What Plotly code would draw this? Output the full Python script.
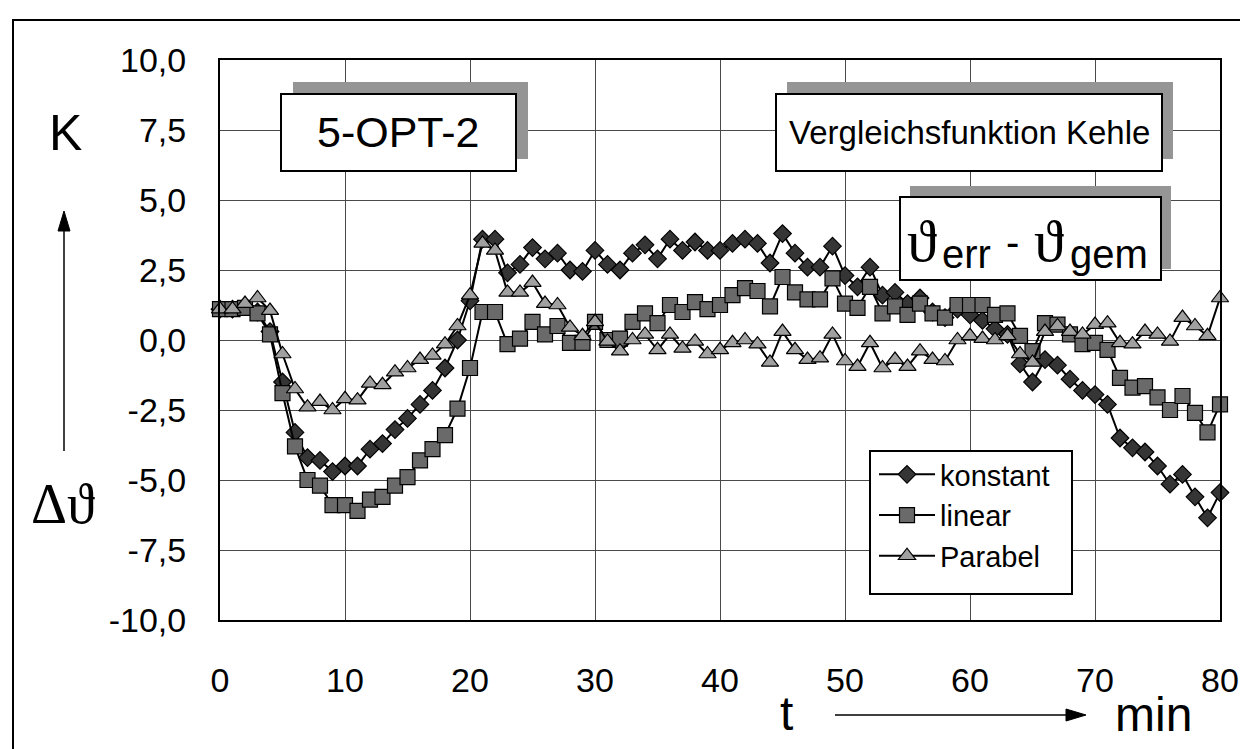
import plotly.graph_objects as go

# ---- data ----
t_min = list(range(0, 81))
konstant = [1.1, 1.1, 1.2, 1.0, 0.3, -1.5, -3.3, -4.2, -4.3, -4.7,
            -4.5, -4.5, -3.9, -3.7, -3.2, -2.8, -2.3, -1.8, -1.0, 0.0,
            1.4, 3.6, 3.6, 2.4, 2.7, 3.3, 2.9, 3.1, 2.5, 2.45,
            3.2, 2.7, 2.5, 3.1, 3.4, 2.9, 3.6, 3.2, 3.5, 3.2,
            3.2, 3.45, 3.6, 3.45, 2.75, 3.8, 3.1, 2.6, 2.6, 3.35,
            2.3, 1.9, 2.6, 1.6, 1.7, 1.3, 1.5, 1.0, 0.8, 1.1,
            0.9, 0.7, 0.4, 0.2, -0.85, -1.5, -0.7, -0.9, -1.4, -1.8,
            -1.95, -2.3, -3.5, -3.85, -4.0, -4.5, -5.15, -4.8, -5.6, -6.35,
            -5.45]
linear = [1.1, 1.1, 1.15, 0.95, 0.2, -1.9, -3.8, -5.0, -5.2, -5.9,
          -5.9, -6.1, -5.7, -5.6, -5.2, -4.9, -4.3, -3.9, -3.4, -2.45,
          -1.0, 1.0, 1.0, -0.15, 0.05, 0.65, 0.2, 0.5, -0.1, -0.1,
          0.65, 0.0, 0.05, 0.65, 0.95, 0.6, 1.25, 1.0, 1.35, 1.1,
          1.25, 1.6, 1.85, 1.75, 1.2, 2.25, 1.7, 1.45, 1.45, 2.2,
          1.3, 1.15, 1.9, 0.95, 1.2, 0.9, 1.3, 0.95, 0.8, 1.25,
          1.25, 1.25, 0.9, 0.95, 0.15, -0.4, 0.6, 0.55, 0.2, -0.15,
          -0.1, -0.35, -1.35, -1.7, -1.65, -2.05, -2.5, -2.0, -2.6, -3.3,
          -2.3]
parabel = [1.1, 1.1, 1.3, 1.5, 1.05, -0.5, -1.75, -2.4, -2.2, -2.5,
           -2.1, -2.15, -1.55, -1.6, -1.15, -1.0, -0.7, -0.55, -0.15, 0.5,
           1.6, 3.45, 3.2, 1.7, 1.7, 2.05, 1.3, 1.25, 0.45, 0.15,
           0.65, -0.05, -0.4, 0.0, 0.2, -0.35, 0.2, -0.3, -0.05, -0.5,
           -0.35, -0.1, 0.0, -0.15, -0.8, 0.3, -0.35, -0.7, -0.65, 0.2,
           -0.75, -0.95, -0.1, -1.0, -0.7, -0.95, -0.4, -0.7, -0.75, 0.0,
           0.15, 0.05, 0.0, 0.15, -0.5, -0.8, 0.3, 0.5, 0.3, 0.2,
           0.55, 0.6, -0.1, -0.15, 0.3, 0.2, -0.05, 0.8, 0.5, 0.15,
           1.5]
series_names = ["konstant", "linear", "Parabel"]
y_tickvals = [10, 7.5, 5, 2.5, 0, -2.5, -5, -7.5, -10]
y_ticktext = ["10,0", "7,5", "5,0", "2,5", "0,0", "-2,5", "-5,0", "-7,5", "-10,0"]
x_tickvals = [0, 10, 20, 30, 40, 50, 60, 70, 80]

W, H = 1248, 749
L, R, T, B = 212, 1212, 52, 612


def X(px):
    return (px - L) / (R - L)


def Y(py):
    return (B - py) / (B - T)


FONT = "Liberation Sans, Arial, sans-serif"
SERIF = "Liberation Serif, DejaVu Serif, serif"

fig = go.Figure()
styles = [
    dict(symbol="diamond", size=13.5, color="#353535"),
    dict(symbol="square", size=15, color="#6a6a6a"),
    dict(symbol="triangle-up", size=15, color="#a0a0a0"),
]
for name, vals, st in zip(series_names, [konstant, linear, parabel], styles):
    fig.add_trace(go.Scatter(
        x=t_min, y=vals, name=name, mode="lines+markers",
        line=dict(color="black", width=2),
        marker=dict(symbol=st["symbol"], size=st["size"], color=st["color"],
                    line=dict(color="black", width=1.2)),
        cliponaxis=False,
    ))

shapes = []
# outer frame
shapes.append(dict(type="rect", xref="paper", yref="paper",
                   x0=X(5), x1=X(1242), y0=Y(745), y1=Y(12),
                   line=dict(color="black", width=2), layer="below"))


def box(x0, y0, x1, y1, dx, dy):
    if dx or dy:
        shapes.append(dict(type="rect", xref="paper", yref="paper",
                           x0=X(x0 + dx), x1=X(x1 + dx), y0=Y(y1 + dy), y1=Y(y0 + dy),
                           fillcolor="#959595", line=dict(width=0), layer="above"))
    shapes.append(dict(type="rect", xref="paper", yref="paper",
                       x0=X(x0), x1=X(x1), y0=Y(y1), y1=Y(y0),
                       fillcolor="white", line=dict(color="black", width=2), layer="above"))


box(273, 86, 508, 163, 12, -12)
box(768, 86, 1154, 163, 11, -12)
box(892, 189, 1153, 272, 10, -11)
# legend frame
box(862, 443, 1064, 586, 0, 0)

# vertical arrow
shapes.append(dict(type="line", xref="paper", yref="paper",
                   x0=X(56), x1=X(56), y0=Y(443), y1=Y(218),
                   line=dict(color="black", width=1.5)))
shapes.append(dict(type="path", xref="paper", yref="paper",
                   path=f"M {X(56)},{Y(203)} L {X(50)},{Y(223)} L {X(62)},{Y(223)} Z",
                   fillcolor="black", line=dict(color="black", width=1)))
# horizontal arrow
shapes.append(dict(type="line", xref="paper", yref="paper",
                   x0=X(827), x1=X(1060), y0=Y(707), y1=Y(707),
                   line=dict(color="black", width=1.5)))
shapes.append(dict(type="path", xref="paper", yref="paper",
                   path=f"M {X(1078)},{Y(707)} L {X(1058)},{Y(701)} L {X(1058)},{Y(713)} Z",
                   fillcolor="black", line=dict(color="black", width=1)))

ann = []


def text(px, py, s, size, family=FONT, xanchor="center"):
    ann.append(dict(xref="paper", yref="paper", x=X(px), y=Y(py), text=s,
                    showarrow=False, xanchor=xanchor, yanchor="middle",
                    font=dict(family=family, size=size, color="black")))


text(57, 125, "K", 50)
text(55, 496, "Δϑ", 56, SERIF)
text(778, 705, "t", 48)
text(1145, 706, "min", 48)
text(390, 124, "5-OPT-2", 43)
text(961, 124, "Vergleichsfunktion Kehle", 33)
text(914, 233, "ϑ", 60, SERIF)
text(958, 246, "err", 40)
text(1004, 234, "-", 40)
text(1041, 233, "ϑ", 60, SERIF)
text(1101, 246, "gem", 40)

fig.update_layout(
    width=W, height=H,
    margin=dict(l=L, r=W - R, t=T, b=H - B, autoexpand=False),
    paper_bgcolor="white", plot_bgcolor="white",
    font=dict(family=FONT, color="black"),
    shapes=shapes, annotations=ann,
    legend=dict(x=X(866), y=Y(441), xanchor="left", yanchor="top",
                bgcolor="rgba(0,0,0,0)", borderwidth=0,
                font=dict(family=FONT, size=29, color="black"),
                itemwidth=56, tracegroupgap=0),
    showlegend=True,
)
fig.update_xaxes(range=[0, 80], tickvals=x_tickvals,
                 ticks="outside", ticklen=29, tickcolor="rgba(0,0,0,0)",
                 showgrid=True, gridcolor="#4a4a4a", gridwidth=1,
                 showline=True, linecolor="black", linewidth=2, mirror=True,
                 zeroline=False,
                 tickfont=dict(family=FONT, size=34, color="black"))
fig.update_yaxes(range=[-10, 10], tickvals=y_tickvals, ticktext=y_ticktext,
                 ticks="outside", ticklen=25, tickcolor="rgba(0,0,0,0)",
                 showgrid=True, gridcolor="#4a4a4a", gridwidth=1,
                 showline=True, linecolor="black", linewidth=2, mirror=True,
                 zeroline=False,
                 tickfont=dict(family=FONT, size=34, color="black"))

fig.write_html("out.html")
